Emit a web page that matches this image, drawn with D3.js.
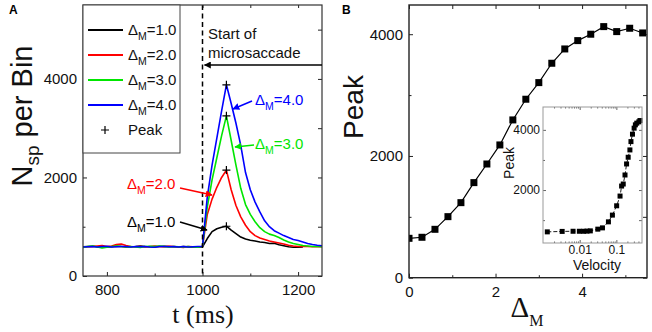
<!DOCTYPE html>
<html>
<head>
<meta charset="utf-8">
<script src="https://cdn.jsdelivr.net/npm/d3@7"></script>
<style>
  html, body { margin: 0; padding: 0; background: #fff; }
  svg { display: block; }
  text { font-family: "Liberation Sans", Arial, sans-serif; }
  text.serif { font-family: "Liberation Serif", "Times New Roman", serif; }
</style>
</head>
<body>
<svg id="chart" width="652" height="332"></svg>
<script>
// ---------- DATA ----------
// Panel A: time bins (ms), 10 ms steps
const timeStart = 750, timeStep = 10;
const nsp_d1 = [590,600,605,595,600,590,595,605,600,590,595,600,610,600,595,590,600,605,600,595,590,600,595,585,590,
                590,760,900,960,990,1010,930,860,790,750,725,710,690,680,660,665,635,615,595,585,585,590];
const nsp_d2 = [590,595,600,610,620,600,610,640,650,620,600,595,600,590,600,610,600,595,605,600,590,580,600,595,590,
                600,1250,1560,1800,2000,2150,1750,1430,1200,1030,900,820,770,740,710,690,670,650,625,610,600,600,598,595,595,595];
const nsp_d3 = [580,600,610,590,570,585,600,610,600,595,600,590,580,600,605,600,610,600,590,600,595,590,600,590,585,
                600,1400,1950,2400,2850,3250,2750,2250,1780,1450,1250,1100,980,900,850,820,780,730,690,660,640,620,610,600,598,595];
const nsp_d4 = [590,595,600,590,600,605,590,595,600,600,590,600,595,600,590,585,600,600,595,600,590,600,590,595,600,
                600,1600,2250,2800,3350,3880,3500,3100,2650,2100,1750,1500,1300,1120,1000,920,870,820,780,740,720,690,660,640,625,615];
const seriesLabels = ["1.0","2.0","3.0","4.0"];
const seriesColors = ["#000000","#ff0000","#00e600","#0000ff"];
const peakTime = 1050;
const peakValues = [1010,2150,3250,3880];
const saccadeOnset = 1000;
const xTicksA = [800,1000,1200], xMinorA = [900,1100];
const yTicksA = [0,2000,4000], yMinorA = [1000,3000,5000];

// Panel B: peak vs ΔM
const deltaM = [0,0.3,0.6,0.9,1.2,1.5,1.8,2.1,2.4,2.7,3.0,3.3,3.6,3.9,4.2,4.5,4.8,5.1,5.4];
const peakB  = [647,664,795,1003,1233,1562,1868,2181,2592,2932,3205,3523,3758,3895,4000,4125,4043,4098,4021];
const xTicksB = [0,2,4], xMinorB = [1,3,5];
const yTicksB = [0,2000,4000], yMinorB = [1000,3000];

// Inset: peak vs velocity
const velocity = [0.00131,0.00333,0.0066,0.0098,0.0128,0.0158,0.0195,0.0312,0.0418,0.0608,0.078,0.1019,0.126,0.139,0.154,0.172,0.19,0.21,0.234,0.25,0.275,0.305,0.33,0.36,0.41,0.44];
const peakInset = [610,625,630,630,630,635,643,700,743,943,1167,1477,1800,2133,2200,2500,2867,3090,3333,3610,3857,4057,4167,4223,4267,4310];
const xTicksInset = [0.01,0.1];
const yTicksInset = [2000,4000], yMinorInset = [1000,3000];

// ---------- DRAW ----------
const svg = d3.select("#chart");
const defs = svg.append("defs");
function marker(id, color) {
  defs.append("marker").attr("id", id).attr("viewBox","0 0 10 10")
    .attr("refX", 9).attr("refY", 5).attr("markerWidth", 7).attr("markerHeight", 7)
    .attr("markerUnits","userSpaceOnUse").attr("orient","auto")
    .append("path").attr("d","M0,0 L10,5 L0,10 z").attr("fill", color);
}
marker("arrK","#000"); marker("arrR","#ff0000"); marker("arrG","#00e600"); marker("arrB","#0000ff");
const arrowIds = ["arrK","arrR","arrG","arrB"];

function styleAxis(g, size) {
  g.select(".domain").remove();
  g.selectAll(".tick line").attr("stroke","#222").attr("stroke-width",1);
  g.selectAll(".tick text").attr("font-size", size).attr("fill","#111");
}

// ===== Panel A =====
const A = {l:83, r:322, t:5, b:276};
const xA = d3.scaleLinear().domain([750,1250]).range([A.l, A.r]);
const yA = d3.scaleLinear().domain([0,5500]).range([A.b, A.t]);
const gA = svg.append("g");

const clipA = defs.append("clipPath").attr("id","clipA");
clipA.append("rect").attr("x",A.l).attr("y",A.t).attr("width",A.r-A.l).attr("height",A.b-A.t);

// axes
gA.append("g").attr("transform",`translate(0,${A.b})`)
  .call(d3.axisBottom(xA).tickValues(xTicksA).tickSize(-4).tickPadding(8).tickFormat(d3.format("d")))
  .call(g => styleAxis(g, 15));
gA.append("g").attr("transform",`translate(0,${A.b})`)
  .call(d3.axisBottom(xA).tickValues(xMinorA).tickSize(-2.5).tickFormat(""))
  .call(g => styleAxis(g, 15));
gA.append("g").attr("transform",`translate(0,${A.t})`)
  .call(d3.axisTop(xA).tickValues(xTicksA.concat(xMinorA)).tickSize(-3).tickFormat(""))
  .call(g => styleAxis(g, 15));
gA.append("g").attr("transform",`translate(${A.l},0)`)
  .call(d3.axisLeft(yA).tickValues(yTicksA).tickSize(-4).tickPadding(6).tickFormat(d3.format("d")))
  .call(g => styleAxis(g, 15));
gA.append("g").attr("transform",`translate(${A.l},0)`)
  .call(d3.axisLeft(yA).tickValues(yMinorA).tickSize(-2.5).tickFormat(""))
  .call(g => styleAxis(g, 15));
gA.append("g").attr("transform",`translate(${A.r},0)`)
  .call(d3.axisRight(yA).tickValues(yTicksA.concat(yMinorA)).tickSize(-4).tickFormat(""))
  .call(g => styleAxis(g, 15));

// series
const seriesA = [nsp_d1, nsp_d2, nsp_d3, nsp_d4];
const lineA = d3.line().x((d,i) => xA(timeStart + i*timeStep)).y(d => yA(d));
const plotA = gA.append("g").attr("clip-path","url(#clipA)");
seriesA.forEach((s,i) => {
  plotA.append("path").datum(s).attr("d", lineA).attr("fill","none")
    .attr("stroke", seriesColors[i]).attr("stroke-width", 1.6).attr("stroke-linejoin","round");
});
// peaks
peakValues.forEach(v => {
  const px = xA(peakTime), py = yA(v);
  plotA.append("path").attr("d",`M${px-4},${py}H${px+4}M${px},${py-4}V${py+4}`)
    .attr("stroke","#000").attr("stroke-width",1.2);
});
// dashed onset line
gA.append("line").attr("x1",xA(saccadeOnset)).attr("x2",xA(saccadeOnset))
  .attr("y1",A.t).attr("y2",A.b).attr("stroke","#000").attr("stroke-width",1.5)
  .attr("stroke-dasharray","5,3.5");

// frame
gA.append("rect").attr("x",A.l).attr("y",A.t).attr("width",A.r-A.l).attr("height",A.b-A.t)
  .attr("fill","none").attr("stroke","#333").attr("stroke-width",1.2);

// start-of-microsaccade annotation
gA.append("text").attr("x",208).attr("y",39).attr("font-size",15).attr("fill","#111").text("Start of");
gA.append("text").attr("x",208).attr("y",58).attr("font-size",15).attr("fill","#111").text("microsaccade");
gA.append("line").attr("x1",A.r).attr("x2",xA(saccadeOnset)+2).attr("y1",65).attr("y2",65)
  .attr("stroke","#000").attr("stroke-width",1.3).attr("marker-end","url(#arrK)");

function deltaText(g, x, y, label, color, size) {
  const t = g.append("text").attr("x",x).attr("y",y).attr("font-size",size).attr("fill",color);
  t.append("tspan").text("Δ");
  t.append("tspan").attr("font-size", size*0.7).attr("dy", size*0.3).text("M");
  t.append("tspan").attr("dy", -size*0.3).text("=" + label);
  return t;
}
// curve annotations
const annot = [
  {tx:127, ty:227, ax1:180, ay1:222, ax2:207, ay2:230},
  {tx:127, ty:189, ax1:180, ay1:188, ax2:212, ay2:195},
  {tx:255, ty:149, ax1:254, ay1:145, ax2:235, ay2:147},
  {tx:255, ty:105, ax1:252, ay1:101, ax2:233, ay2:109}
];
annot.forEach((a,i) => {
  deltaText(gA, a.tx, a.ty, seriesLabels[i], seriesColors[i], 15);
  gA.append("line").attr("x1",a.ax1).attr("y1",a.ay1).attr("x2",a.ax2).attr("y2",a.ay2)
    .attr("stroke",seriesColors[i]).attr("stroke-width",1.5).attr("marker-end",`url(#${arrowIds[i]})`);
});

// legend
const leg = gA.append("g");
leg.append("rect").attr("x",A.l).attr("y",A.t).attr("width",97).attr("height",148)
  .attr("fill","#fff").attr("stroke","#444").attr("stroke-width",1);
seriesLabels.forEach((lab,i) => {
  const y = 30 + i*25;
  leg.append("line").attr("x1",88).attr("x2",123).attr("y1",y).attr("y2",y)
    .attr("stroke",seriesColors[i]).attr("stroke-width",1.8);
  deltaText(leg, 128, y+5, lab, "#111", 15);
});
leg.append("path").attr("d","M101,130H109M105,126V134").attr("stroke","#000").attr("stroke-width",1.2);
leg.append("text").attr("x",128).attr("y",135).attr("font-size",15).attr("fill","#111").text("Peak");

// axis labels A
const ylA = gA.append("text").attr("transform","translate(32,116) rotate(-90)")
  .attr("text-anchor","middle").attr("font-size",29).attr("fill","#111");
ylA.append("tspan").text("N");
ylA.append("tspan").attr("font-size",19).attr("dy",7).text("sp");
ylA.append("tspan").attr("dy",-7).text(" per Bin");
gA.append("text").attr("class","serif").attr("x",203).attr("y",323).attr("text-anchor","middle")
  .attr("font-size",26).attr("fill","#111").text("t (ms)");
gA.append("text").attr("x",9).attr("y",14).attr("font-size",12).attr("font-weight","bold").text("A");

// ===== Panel B =====
const B = {l:409, r:647, t:5, b:277.7};
const xB = d3.scaleLinear().domain([0,5.5]).range([B.l, B.r]);
const yB = d3.scaleLinear().domain([0,4480]).range([B.b, B.t]);
const gB = svg.append("g");
const clipB = defs.append("clipPath").attr("id","clipB");
clipB.append("rect").attr("x",B.l).attr("y",B.t).attr("width",B.r-B.l).attr("height",B.b-B.t);

gB.append("g").attr("transform",`translate(0,${B.b})`)
  .call(d3.axisBottom(xB).tickValues(xTicksB).tickSize(-4).tickPadding(9).tickFormat(d3.format("d")))
  .call(g => styleAxis(g, 15));
gB.append("g").attr("transform",`translate(0,${B.b})`)
  .call(d3.axisBottom(xB).tickValues(xMinorB).tickSize(-2.5).tickFormat(""))
  .call(g => styleAxis(g, 15));
gB.append("g").attr("transform",`translate(0,${B.t})`)
  .call(d3.axisTop(xB).tickValues(xTicksB.concat(xMinorB)).tickSize(-4).tickFormat(""))
  .call(g => styleAxis(g, 15));
gB.append("g").attr("transform",`translate(${B.l},0)`)
  .call(d3.axisLeft(yB).tickValues(yTicksB).tickSize(-4).tickPadding(6).tickFormat(d3.format("d")))
  .call(g => styleAxis(g, 15));
gB.append("g").attr("transform",`translate(${B.l},0)`)
  .call(d3.axisLeft(yB).tickValues(yMinorB).tickSize(-2.5).tickFormat(""))
  .call(g => styleAxis(g, 15));
gB.append("g").attr("transform",`translate(${B.r},0)`)
  .call(d3.axisRight(yB).tickValues(yTicksB.concat(yMinorB)).tickSize(-4).tickFormat(""))
  .call(g => styleAxis(g, 15));

const plotB = gB.append("g").attr("clip-path","url(#clipB)");
const ptsB = deltaM.map((d,i) => [d, peakB[i]]);
plotB.append("path").datum(ptsB)
  .attr("d", d3.line().x(d => xB(d[0])).y(d => yB(d[1])))
  .attr("fill","none").attr("stroke","#000").attr("stroke-width",1.2);
plotB.selectAll("rect.pt").data(ptsB).join("rect").attr("class","pt")
  .attr("x", d => xB(d[0]) - 3.5).attr("y", d => yB(d[1]) - 3.5)
  .attr("width",7).attr("height",7).attr("fill","#000");

gB.append("rect").attr("x",B.l).attr("y",B.t).attr("width",B.r-B.l).attr("height",B.b-B.t)
  .attr("fill","none").attr("stroke","#222").attr("stroke-width",1.4);

gB.append("text").attr("transform","translate(363,107) rotate(-90)").attr("text-anchor","middle")
  .attr("font-size",28).attr("fill","#111").text("Peak");
const xlB = gB.append("text").attr("class","serif").attr("x",527).attr("y",317).attr("text-anchor","middle")
  .attr("font-size",29).attr("fill","#111");
xlB.append("tspan").text("Δ");
xlB.append("tspan").attr("font-size",16).attr("dy",9).text("M");
gB.append("text").attr("x",342).attr("y",14).attr("font-size",12).attr("font-weight","bold").text("B");

// ===== Inset =====
const I = {l:543, r:642, t:107, b:243};
const xI = d3.scaleLog().domain([0.001,0.5]).range([I.l, I.r]);
const yI = d3.scaleLinear().domain([240,4760]).range([I.b, I.t]);
const gI = svg.append("g");
gI.append("rect").attr("x",I.l).attr("y",I.t).attr("width",I.r-I.l).attr("height",I.b-I.t)
  .attr("fill","#fff");
const minorLog = [0.002,0.003,0.004,0.005,0.006,0.007,0.008,0.009,0.02,0.03,0.04,0.05,0.06,0.07,0.08,0.09,0.2,0.3,0.4];
gI.append("g").attr("transform",`translate(0,${I.b})`)
  .call(d3.axisBottom(xI).tickValues(xTicksInset).tickSize(-3).tickPadding(2).tickFormat(d => String(d)))
  .call(g => styleAxis(g, 12));
gI.append("g").attr("transform",`translate(0,${I.b})`)
  .call(d3.axisBottom(xI).tickValues(minorLog).tickSize(-1.5).tickFormat(""))
  .call(g => styleAxis(g, 12));
gI.append("g").attr("transform",`translate(0,${I.t})`)
  .call(d3.axisTop(xI).tickValues(xTicksInset).tickSize(-3).tickFormat(""))
  .call(g => styleAxis(g, 12));
gI.append("g").attr("transform",`translate(0,${I.t})`)
  .call(d3.axisTop(xI).tickValues(minorLog).tickSize(-1.5).tickFormat(""))
  .call(g => styleAxis(g, 12));
gI.append("g").attr("transform",`translate(${I.l},0)`)
  .call(d3.axisLeft(yI).tickValues(yTicksInset).tickSize(-3).tickPadding(3).tickFormat(d3.format("d")))
  .call(g => styleAxis(g, 12));
gI.append("g").attr("transform",`translate(${I.l},0)`)
  .call(d3.axisLeft(yI).tickValues(yMinorInset).tickSize(-2).tickFormat(""))
  .call(g => styleAxis(g, 12));
gI.append("g").attr("transform",`translate(${I.r},0)`)
  .call(d3.axisRight(yI).tickValues(yTicksInset.concat(yMinorInset)).tickSize(-3).tickFormat(""))
  .call(g => styleAxis(g, 12));
gI.selectAll(".tick line").attr("stroke","#666");

const ptsI = velocity.map((v,i) => [v, peakInset[i]]);
gI.append("path").datum(ptsI)
  .attr("d", d3.line().x(d => xI(d[0])).y(d => yI(d[1])))
  .attr("fill","none").attr("stroke","#000").attr("stroke-width",0.9).attr("stroke-dasharray","4,2");
gI.selectAll("rect.ip").data(ptsI).join("rect").attr("class","ip")
  .attr("x", d => xI(d[0]) - 2.5).attr("y", d => yI(d[1]) - 2.5)
  .attr("width",5).attr("height",5).attr("fill","#000");
gI.append("rect").attr("x",I.l).attr("y",I.t).attr("width",I.r-I.l).attr("height",I.b-I.t)
  .attr("fill","none").attr("stroke","#999").attr("stroke-width",1);
gI.append("text").attr("transform","translate(514,163) rotate(-90)").attr("text-anchor","middle")
  .attr("font-size",14).attr("fill","#111").text("Peak");
gI.append("text").attr("x",597).attr("y",270).attr("text-anchor","middle")
  .attr("font-size",14).attr("fill","#111").text("Velocity");
</script>
</body>
</html>
